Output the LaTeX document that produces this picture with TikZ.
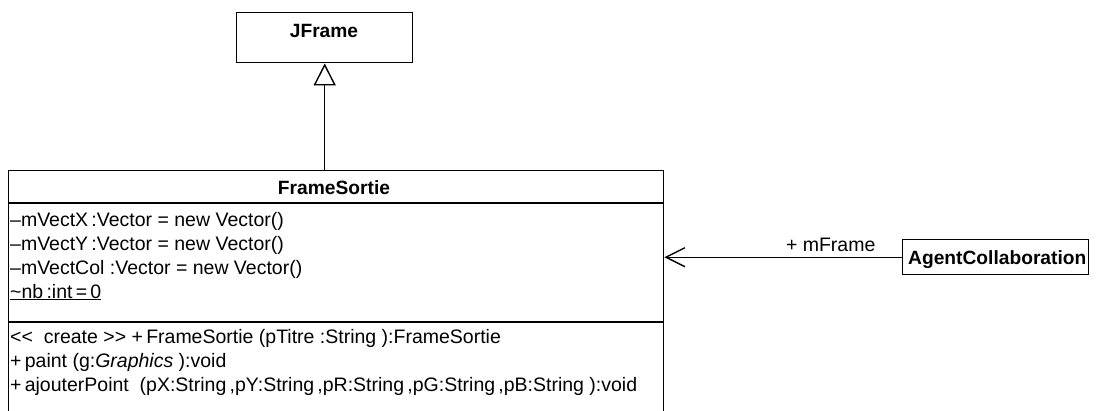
\documentclass[tikz,border=0pt]{standalone}
\usepackage{fontspec}
\newfontfamily\umlfont{Liberation Sans}
\usetikzlibrary{arrows.meta}
\tikzset{
  umlline/.style={line width=1.4pt},
  classbox/.style={draw, umlline, inner sep=0pt, fill=white},
  txt/.style={inner sep=0pt, font=\umlfont\fontsize{19.5}{24}\selectfont},
  member/.style={txt, anchor=base west},
  title/.style={txt, anchor=base, font=\umlfont\bfseries\fontsize{19.2}{24}\selectfont},
  inherit/.style={umlline, -{Triangle[open, length=22pt, width=22pt, fill=white]}},
  assoc/.style={umlline, -{Straight Barb[length=19pt, width=19pt, line width=1.4pt]}}
}
\begin{document}
\begin{tikzpicture}[x=1pt, y=-1pt]
\useasboundingbox (0,0) rectangle (1096,410);

% superclass
\node[classbox, minimum width=176pt, minimum height=50pt, anchor=north west] (jf) at (236,12) {};
\node[title] (jft) at (324,37) {JFrame};

% FrameSortie class with its compartments
\node[classbox, minimum width=655pt, minimum height=245pt, anchor=north west] (fs) at (8,170) {};
\coordinate (sep1) at (8,203);
\coordinate (sep2) at (8,322);
\draw[umlline] (sep1) -- (sep1 -| fs.east);
\draw[umlline] (sep2) -- (sep2 -| fs.east);
\node[title] (fst) at (334,194) {FrameSortie};

\node[member] (a1) at (10,226) {–mVectX\,:Vector = new Vector()};
\node[member] (a2) at (10,250) {–mVectY\,:Vector = new Vector()};
\node[member] (a3) at (10,274) {–mVectCol :Vector = new Vector()};
\node[member] (a4) at (10,298) {\underline{\textasciitilde nb\,:int\,=\,0}};

\node[member] (m1) at (10,343) {<\kern0pt< \ create >\kern0pt> +\,FrameSortie (pTitre :String ):FrameSortie};
\node[member] (m2) at (10,367) {+\,paint (g:\textit{Graphics} ):void};
\node[member] (m3) at (10,391) {+\,ajouterPoint \ (pX:String\,,pY:String\,,pR:String\,,pG:String\,,pB:String ):void};

% client class
\node[classbox, minimum width=186pt, minimum height=35pt, anchor=north west] (ac) at (902,239) {};
\node[title, anchor=base west] (act) at (908,264) {AgentCollaboration};

% relations
\draw[inherit] (fs.north -| jf.south) -- (jf.south);
\draw[assoc] (ac.west) -- (ac.west -| fs.east) node[txt, pos=0.3, above=5pt] (lbl) {+ mFrame};
\end{tikzpicture}
\end{document}
